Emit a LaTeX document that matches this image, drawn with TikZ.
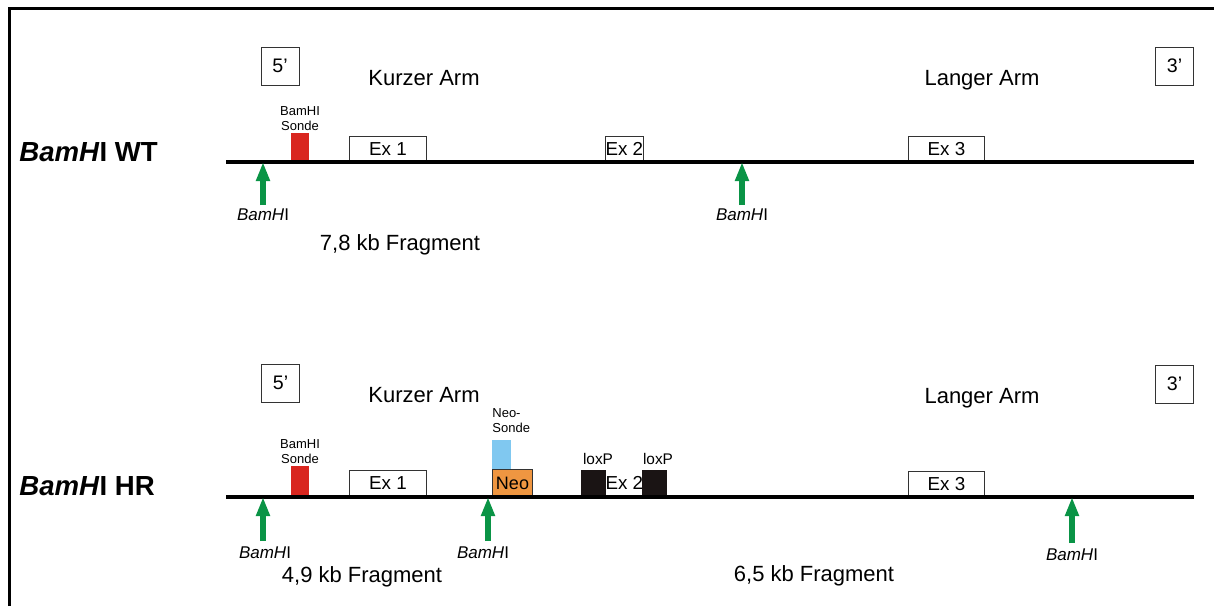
\documentclass[tikz,border=0pt]{standalone}
\usepackage{fontspec}
\setmainfont{Liberation Sans}
\usetikzlibrary{arrows.meta,positioning}
\definecolor{cutgreen}{HTML}{0A9446}
\definecolor{probered}{HTML}{D9261F}
\definecolor{neoorange}{HTML}{EF9641}
\definecolor{sondeblue}{HTML}{80C8F0}
\definecolor{loxblack}{HTML}{1A1414}
\tikzset{
  box/.style={draw=black!80,line width=0.5pt,inner sep=0pt,anchor=south west,font=\fontsize{9.4}{10}\selectfont},
  exon/.style={box,fill=white},
  endbox/.style={draw=black!80,line width=0.5pt,inner sep=0pt,minimum size=19pt,font=\fontsize{9.8}{11}\selectfont},
  probe/.style={fill=probered,inner sep=0pt,anchor=south,minimum width=9pt},
  neobox/.style={box,fill=neoorange,minimum width=20pt,minimum height=13.5pt,font=\fontsize{9}{10}\selectfont},
  neoprobe/.style={fill=sondeblue,inner sep=0pt,anchor=south west,minimum width=9.5pt,minimum height=14.5pt},
  lox/.style={box,draw=none,fill=loxblack,minimum width=12.5pt,minimum height=13.5pt},
  title/.style={anchor=west,inner sep=0pt,font=\fontsize{13.8}{16}\selectfont\bfseries},
  arm/.style={anchor=base,inner sep=0pt,font=\fontsize{11}{13}\selectfont},
  plabel/.style={inner sep=0pt,align=center,font=\fontsize{6.5}{7.5}\selectfont},
  loxlbl/.style={inner sep=0pt,font=\fontsize{7.7}{9}\selectfont},
  enzlbl/.style={inner sep=0pt,font=\fontsize{8.5}{10}\selectfont},
  dna/.style={line width=2.2pt},
  cut/.style={draw=cutgreen,line width=3pt,-{Triangle[width=6.5pt,length=9.5pt]}},
}
\begin{document}
\begin{tikzpicture}[x=0.5pt,y=-0.5pt]
  \useasboundingbox (0,0) rectangle (1214,606);
  \draw[line width=1.5pt] (9,606) -- (9,8) -- (1214,8);

  % wildtype allele
  \node[title] (wt) at (19,152) {\textit{BamH}I WT};
  \node[endbox] (wt5box) at (280,66) {5’};
  \node[endbox] (wt3box) at (1174.5,66) {3’};
  \node[arm] (wtkurz) at (424,85) {Kurzer Arm};
  \node[arm] (wtlang) at (982,85) {Langer Arm};
  \node[probe,minimum height=14.5pt] (wtprobe) at (300,162) {};
  \node[plabel,above=0.5pt of wtprobe] (wtprobelbl) {BamHI\\Sonde};
  \node[exon,minimum width=38.5pt,minimum height=12.5pt] (wtex1) at (349,162) {Ex 1};
  \node[exon,minimum width=18pt,minimum height=12.5pt] (wtex2) at (605,162) {Ex 2};
  \node[exon,minimum width=38pt,minimum height=12.5pt] (wtex3) at (908,162) {Ex 3};
  \coordinate (wt5) at (226,162);
  \coordinate (wt3) at (1194,162);
  \draw[dna] (wt5) -- (wt3);
  \coordinate (wtc1) at (263,205);
  \coordinate (wtc2) at (742,205);
  \draw[cut] (wtc1) -- (wtc1 |- wt5);
  \draw[cut] (wtc2) -- (wtc2 |- wt5);
  \node[enzlbl,below=1.5pt of wtc1] (wtc1lbl) {\textit{BamH}I};
  \node[enzlbl,below=1.5pt of wtc2] (wtc2lbl) {\textit{BamH}I};
  \node[arm] (wtfrag) at (400,250) {7,8 kb Fragment};

  % recombined allele
  \node[title] (hr) at (19,486) {\textit{BamH}I HR};
  \node[endbox] (hr5box) at (280.5,383) {5’};
  \node[endbox] (hr3box) at (1174.5,384) {3’};
  \node[arm] (hrkurz) at (424,402) {Kurzer Arm};
  \node[arm] (hrlang) at (982,403) {Langer Arm};
  \node[probe,minimum height=15.5pt] (hrprobe) at (300,497) {};
  \node[plabel,above=0.5pt of hrprobe] (hrprobelbl) {BamHI\\Sonde};
  \node[exon,minimum width=38.5pt,minimum height=13pt] (hrex1) at (349,497) {Ex 1};
  \node[neobox] (neo) at (492,497) {Neo};
  \node[neoprobe] (neoprobe) at (neo.north west) {};
  \node[plabel,align=left,anchor=south west] (neoprobelbl) at ([yshift=3pt]neoprobe.north west) {Neo-\\Sonde};
  \node[lox] (lox1) at (580,497) {};
  \node[exon,draw=none,minimum width=18pt,minimum height=13.5pt] (hrex2) at (605,497) {Ex 2};
  \node[lox] (lox2) at (641,497) {};
  \node[loxlbl,above=2pt of lox1,xshift=2.5pt] (lox1lbl) {loxP};
  \node[loxlbl,above=2pt of lox2,xshift=2pt] (lox2lbl) {loxP};
  \node[exon,minimum width=38pt,minimum height=12.5pt] (hrex3) at (908,497) {Ex 3};
  \coordinate (hr5) at (226,497);
  \coordinate (hr3) at (1194,497);
  \draw[dna] (hr5) -- (hr3);
  \coordinate (hrc1) at (263,541);
  \coordinate (hrc2) at (488,541);
  \coordinate (hrc3) at (1072,543);
  \draw[cut] (hrc1) -- (hrc1 |- hr5);
  \draw[cut] (hrc2) -- (hrc2 |- hr5);
  \draw[cut] (hrc3) -- (hrc3 |- hr5);
  \node[enzlbl,below=2.5pt of hrc1,xshift=1pt] (hrc1lbl) {\textit{BamH}I};
  \node[enzlbl,below=2.5pt of hrc2,xshift=-2.5pt] (hrc2lbl) {\textit{BamH}I};
  \node[enzlbl,below=2.5pt of hrc3] (hrc3lbl) {\textit{BamH}I};
  \node[arm] (hrfrag1) at (362,582) {4,9 kb Fragment};
  \node[arm] (hrfrag2) at (814,581) {6,5 kb Fragment};
\end{tikzpicture}
\end{document}
